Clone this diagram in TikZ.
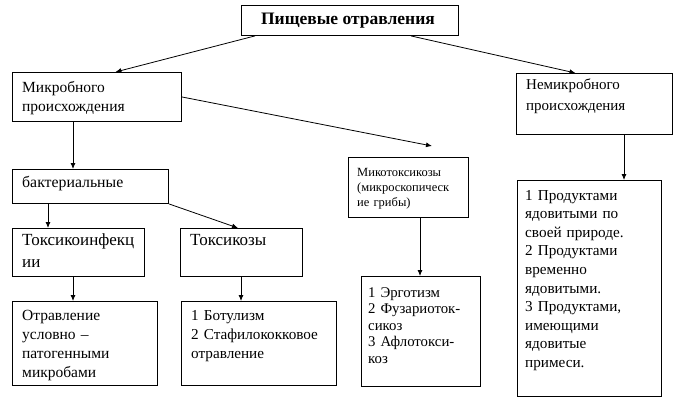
\documentclass[tikz,border=0pt]{standalone}
\usepackage{fontspec}
\setmainfont{Liberation Serif}
\usetikzlibrary{arrows.meta}
\begin{document}
\begin{tikzpicture}[x=1pt,y=-1pt,
  box/.style={draw, line width=0.9pt, anchor=north west, inner sep=0},
  txt/.style={inner sep=0, align=left, anchor=base west, text width=#1},
  txt/.default=150pt,
  conn/.style={line width=0.8pt, -{Latex[length=6pt,width=5pt]}}]
\useasboundingbox (0,0) rectangle (697,410);
% boxes
\node[box, minimum width=217pt, minimum height=30pt] (T) at (241,5) {};
\node[box, minimum width=169pt, minimum height=49pt] (M) at (12,72) {};
\node[box, minimum width=156pt, minimum height=61pt] (N) at (516,73) {};
\node[box, minimum width=156pt, minimum height=34pt] (B) at (12,169) {};
\node[box, minimum width=132pt, minimum height=48pt] (TI) at (12,228) {};
\node[box, minimum width=122pt, minimum height=48pt] (TZ) at (180,228) {};
\node[box, minimum width=145pt, minimum height=84pt] (O) at (12,301) {};
\node[box, minimum width=155pt, minimum height=84pt] (BT) at (181,301) {};
\node[box, minimum width=120pt, minimum height=60pt] (MK) at (348,157) {};
\node[box, minimum width=119pt, minimum height=110pt] (E) at (361,276) {};
\node[box, minimum width=144pt, minimum height=216pt] (P) at (517,180) {};
% texts
\node[inner sep=0, anchor=base, font=\fontsize{17.5}{20}\selectfont\bfseries] (Tt) at (348,24) {Пищевые отравления};
\node[txt, font=\fontsize{15.5}{19}\selectfont] (Mt) at (22,92) {Микробного\\происхождения};
\node[txt, font=\fontsize{15}{21.5}\selectfont] (Nt) at (526,89) {Немикробного\\происхождения};
\node[txt, font=\fontsize{15.8}{19}\selectfont] (Bt) at (22,187) {бактериальные};
\node[txt, font=\fontsize{17}{22}\selectfont] (TIt) at (22,245) {Токсикоинфекц\\ии};
\node[txt, font=\fontsize{17}{22}\selectfont] (TZt) at (190,245) {Токсикозы};
\node[txt, font=\fontsize{15.5}{19}\selectfont] (Ot) at (22,320) {Отравление\\условно –\\патогенными\\микробами};
\node[txt, font=\fontsize{15.2}{19}\selectfont] (BTt) at (191,320) {1 Ботулизм\\2 Стафилококковое\\отравление};
\node[txt, font=\fontsize{12.5}{15}\selectfont] (MKt) at (357,176) {Микотоксикозы\\(микроскопическ\\ие грибы)};
\node[txt, font=\fontsize{14.8}{16.5}\selectfont] (Et) at (368,297) {1 Эрготизм\\2 Фузариоток-\\сикоз\\3 Афлотокси-\\коз};
\node[txt, font=\fontsize{15.2}{18.6}\selectfont] (Pt) at (525,200) {1 Продуктами\\ядовитыми по\\своей природе.\\2 Продуктами\\временно\\ядовитыми.\\3 Продуктами,\\имеющими\\ядовитые\\примеси.};
% connectors
\coordinate (mkend) at (432,146);
\draw[conn] ([xshift=14pt]T.south west) -- ([xshift=18.5pt]M.north);
\draw[conn] ([xshift=-48pt]T.south east) -- ([xshift=-19pt]N.north);
\draw[conn] (M.east) -- (mkend);
\draw[conn] ([xshift=61pt]M.south west) -- ([xshift=61pt]B.north west);
\draw[conn] ([xshift=36pt]B.south west) -- ([xshift=36pt]TI.north west);
\draw[conn] (B.south east) -- ([xshift=58pt]TZ.north west);
\draw[conn] ([xshift=61pt]TI.south west) -- ([xshift=61pt]O.north west);
\draw[conn] ([xshift=61pt]TZ.south west) -- ([xshift=60pt]BT.north west);
\draw[conn] ([xshift=108pt]N.south west) -- ([xshift=107pt]P.north west);
\draw[conn] ([xshift=72pt]MK.south west) -- ([xshift=72pt]MK.south west |- E.north);
\end{tikzpicture}
\end{document}
